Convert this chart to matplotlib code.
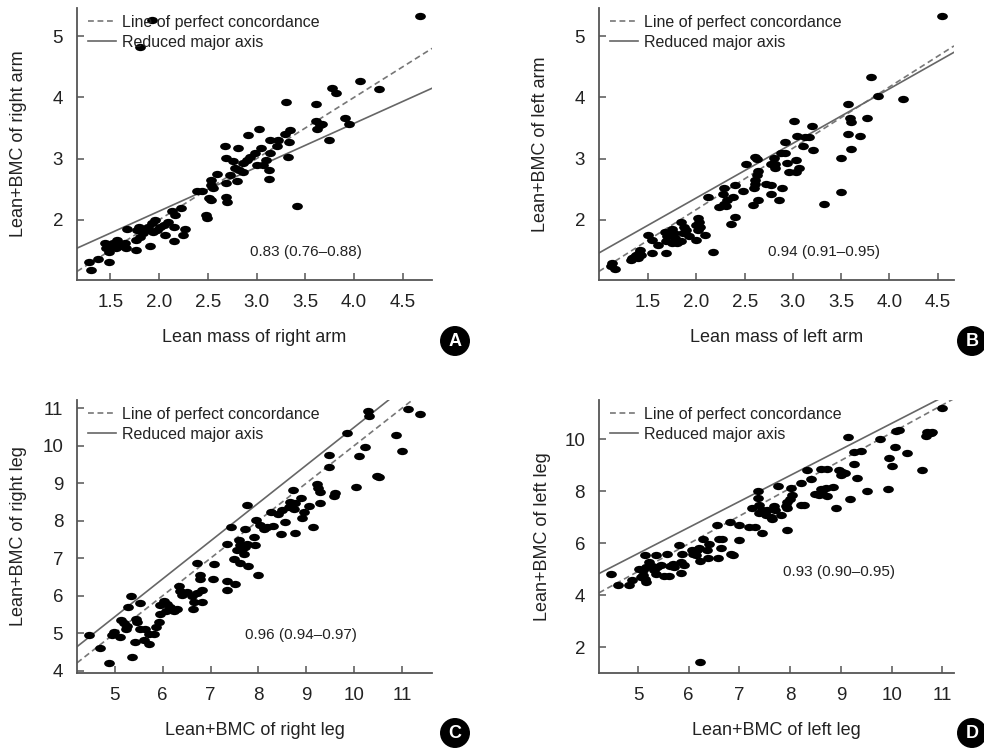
import matplotlib
matplotlib.use("Agg")
import matplotlib.pyplot as plt
from matplotlib import font_manager
from matplotlib.path import Path
from matplotlib.transforms import Affine2D

names = {f.name for f in font_manager.fontManager.ttflist}
fam = "Liberation Sans Narrow" if "Liberation Sans Narrow" in names else "Liberation Sans"
plt.rcParams["font.family"] = [fam, "DejaVu Sans"]

# panel A: right arm
a_x = [4.68, 1.93, 1.81, 4.06, 3.77, 3.81, 4.26, 3.30, 3.61, 3.91, 3.95, 3.61, 3.65, 3.62, 3.67,
       3.74, 3.03, 2.91, 3.29, 3.34, 3.33, 3.32, 3.14, 3.22, 3.21, 3.05, 3.14, 2.98, 2.93, 2.90,
       2.86, 3.00, 3.07, 3.10, 3.13, 3.13, 2.81, 2.68, 2.69, 2.76, 2.78, 2.82, 2.86, 2.80, 2.73,
       2.69, 2.59, 2.53, 2.53, 2.55, 2.69, 2.70, 2.51, 2.53, 2.39, 2.44, 2.48, 2.49, 3.41, 2.23,
       2.13, 2.16, 2.27, 2.25, 2.15, 2.06, 2.09, 2.05, 2.01, 1.98, 1.94, 2.15, 1.96, 1.93, 1.89,
       1.87, 1.84, 1.81, 1.77, 1.80, 1.76, 1.91, 1.67, 1.76, 1.66, 1.65, 1.57, 1.53, 1.51, 1.49,
       1.45, 1.46, 1.56, 1.49, 1.37, 1.28, 1.30, 1.60]
a_y = [5.33, 5.27, 4.83, 4.27, 4.16, 4.07, 4.14, 3.92, 3.89, 3.66, 3.56, 3.62, 3.55, 3.48, 3.57,
       3.30, 3.49, 3.39, 3.41, 3.47, 3.28, 3.02, 3.30, 3.30, 3.20, 3.17, 3.09, 3.09, 3.03, 2.98,
       2.93, 2.90, 2.90, 2.98, 2.82, 2.66, 3.18, 3.20, 3.01, 2.97, 2.84, 2.82, 2.79, 2.63, 2.73,
       2.60, 2.75, 2.65, 2.57, 2.52, 2.38, 2.30, 2.35, 2.33, 2.48, 2.48, 2.08, 2.03, 2.22, 2.19,
       2.14, 2.08, 1.86, 1.76, 1.65, 1.76, 1.97, 1.92, 1.88, 1.84, 1.80, 1.89, 2.00, 1.95, 1.89,
       1.84, 1.78, 1.72, 1.84, 1.89, 1.67, 1.57, 1.86, 1.51, 1.54, 1.62, 1.68, 1.62, 1.57, 1.48,
       1.62, 1.54, 1.54, 1.32, 1.36, 1.32, 1.18, 1.57]

# panel B: left arm
b_x = [4.55, 3.81, 3.88, 4.14, 3.57, 3.59, 3.60, 3.77, 3.57, 3.70, 3.60, 3.50, 3.50, 3.32, 3.01,
       3.20, 3.04, 3.13, 3.17, 3.11, 3.21, 2.92, 2.88, 2.92, 2.94, 3.03, 3.06, 2.96, 3.03, 2.80,
       2.81, 2.81, 2.77, 2.61, 2.63, 2.51, 2.64, 2.63, 2.61, 2.61, 2.60, 2.72, 2.77, 2.77, 2.86,
       2.89, 2.64, 2.59, 2.48, 2.40, 2.38, 2.29, 2.28, 2.32, 2.29, 2.31, 2.23, 2.40, 2.36, 2.12,
       2.17, 2.02, 2.03, 2.00, 2.04, 2.02, 2.09, 2.00, 1.84, 1.87, 1.89, 1.86, 1.92, 1.75, 1.77,
       1.78, 1.75, 1.80, 1.84, 1.67, 1.70, 1.68, 1.60, 1.50, 1.54, 1.54, 1.68, 1.42, 1.40, 1.37,
       1.35, 1.33, 1.39, 1.43, 1.32, 1.13, 1.11, 1.16]
b_y = [5.33, 4.33, 4.03, 3.98, 3.89, 3.66, 3.60, 3.67, 3.41, 3.37, 3.16, 3.01, 2.45, 2.26, 3.62,
       3.53, 3.37, 3.36, 3.36, 3.20, 3.14, 3.28, 3.10, 3.10, 2.93, 2.98, 2.84, 2.79, 2.79, 3.01,
       2.92, 2.84, 2.92, 3.03, 2.99, 2.91, 2.80, 2.73, 2.65, 2.59, 2.52, 2.58, 2.57, 2.43, 2.33,
       2.52, 2.33, 2.24, 2.48, 2.57, 2.38, 2.52, 2.43, 2.33, 2.26, 2.23, 2.21, 2.05, 1.93, 2.38,
       1.47, 2.03, 1.97, 1.92, 1.89, 1.84, 1.76, 1.68, 1.97, 1.89, 1.84, 1.78, 1.73, 1.86, 1.78,
       1.70, 1.62, 1.62, 1.65, 1.81, 1.73, 1.65, 1.59, 1.76, 1.67, 1.46, 1.46, 1.51, 1.46, 1.43,
       1.40, 1.38, 1.38, 1.43, 1.35, 1.29, 1.24, 1.20]

# panel C: right leg
c_x = [10.30, 10.31, 11.12, 11.38, 9.85, 10.88, 11.00, 10.22, 10.11, 9.47, 9.47, 10.48, 10.53,
       10.03, 9.61, 9.57, 9.22, 9.25, 9.28, 9.29, 8.72, 8.89, 8.67, 8.77, 8.63, 8.74, 8.95, 8.91,
       9.05, 9.14, 8.77, 8.48, 8.56, 8.42, 8.49, 8.26, 8.31, 7.76, 7.94, 8.04, 8.11, 8.18, 7.90,
       7.92, 7.99, 7.42, 7.73, 7.35, 7.59, 7.62, 7.66, 7.73, 7.76, 7.69, 7.55, 7.48, 7.62, 7.78,
       7.07, 6.71, 6.78, 6.79, 7.05, 7.34, 7.51, 7.34, 6.82, 6.71, 6.82, 6.61, 6.65, 6.64, 6.34,
       6.37, 6.41, 6.51, 6.02, 6.09, 6.16, 6.23, 6.30, 5.95, 6.06, 5.95, 5.92, 5.85, 5.81, 5.71,
       5.64, 5.52, 5.52, 5.33, 5.28, 5.45, 5.47, 5.12, 5.19, 5.26, 5.24, 4.98, 4.94, 5.10, 5.43,
       5.61, 5.71, 5.36, 4.87, 4.70, 4.46]
c_y = [10.93, 10.79, 10.98, 10.84, 10.35, 10.29, 9.86, 9.96, 9.72, 9.75, 9.44, 9.20, 9.17,
       8.89, 8.73, 8.65, 8.97, 8.86, 8.77, 8.46, 8.82, 8.61, 8.50, 8.46, 8.37, 8.32, 8.24, 8.06,
       8.39, 7.82, 7.67, 7.64, 7.97, 8.19, 8.28, 8.24, 7.85, 8.41, 8.01, 7.88, 7.79, 7.83, 7.57,
       7.34, 6.54, 7.83, 7.79, 7.37, 7.48, 7.34, 7.25, 7.30, 7.37, 7.12, 7.21, 6.99, 6.88, 6.79,
       6.84, 6.87, 6.54, 6.45, 6.45, 6.39, 6.30, 6.16, 6.16, 6.07, 5.83, 5.98, 5.83, 5.65, 6.27,
       6.12, 6.01, 6.10, 5.87, 5.78, 5.69, 5.60, 5.65, 5.74, 5.60, 5.52, 5.30, 5.16, 4.98, 4.98,
       5.12, 5.12, 5.80, 5.98, 5.69, 5.38, 5.29, 5.34, 5.27, 5.20, 5.12, 5.03, 4.94, 4.89, 4.76,
       4.83, 4.71, 4.36, 4.20, 4.60, 4.95]

# panel D: left leg
d_x = [11.00, 10.70, 10.77, 10.80, 10.68, 10.08, 10.15, 9.77, 9.15, 10.06, 10.30, 9.95, 10.01,
       10.59, 9.92, 9.51, 9.25, 9.39, 9.26, 9.31, 9.18, 8.90, 8.96, 9.03, 9.00, 9.09, 8.60, 8.73,
       8.84, 8.70, 8.60, 8.49, 8.57, 8.73, 8.62, 8.34, 8.42, 8.21, 8.21, 8.27, 8.01, 8.04, 8.00,
       7.94, 7.91, 7.94, 7.93, 7.76, 7.81, 7.37, 7.37, 7.25, 7.38, 7.45, 7.39, 7.52, 7.62, 7.71,
       7.68, 7.64, 7.55, 7.44, 7.18, 7.30, 7.00, 7.00, 6.81, 6.56, 6.59, 6.66, 6.63, 6.58, 6.83,
       6.88, 6.28, 6.39, 6.37, 6.38, 6.22, 6.07, 6.09, 6.14, 6.17, 6.20, 5.81, 5.87, 5.84, 5.91,
       5.84, 5.68, 5.71, 5.64, 5.58, 5.51, 5.62, 5.35, 5.13, 5.22, 5.27, 5.32, 5.38, 5.45, 5.35,
       5.15, 5.09, 5.02, 5.09, 5.14, 5.15, 5.05, 4.89, 4.82, 4.61, 4.47, 6.22]
d_y = [11.18, 10.28, 10.24, 10.28, 10.13, 10.32, 10.35, 10.00, 10.06, 9.68, 9.45, 9.26, 8.96,
       8.81, 8.07, 8.01, 9.51, 9.55, 9.04, 8.51, 7.69, 7.33, 8.81, 8.74, 8.61, 8.68, 8.83, 8.83,
       8.16, 8.10, 8.06, 7.88, 7.84, 7.80, 7.91, 8.81, 8.45, 8.32, 7.46, 7.46, 8.10, 7.84, 7.68,
       7.59, 7.43, 7.33, 6.52, 8.19, 7.07, 8.00, 7.75, 7.35, 7.46, 7.26, 7.14, 7.07, 7.01, 7.26,
       7.42, 6.92, 7.26, 6.39, 6.60, 6.62, 6.69, 6.11, 6.82, 6.69, 6.15, 6.15, 5.83, 5.43, 5.60,
       5.53, 6.17, 5.96, 5.72, 5.43, 5.31, 5.72, 5.60, 5.53, 5.72, 5.83, 5.92, 5.60, 5.27, 5.15,
       4.85, 5.21, 5.08, 5.12, 5.60, 4.72, 4.72, 5.53, 5.53, 5.27, 5.11, 4.95, 5.08, 5.15, 4.82,
       5.08, 4.95, 5.02, 4.76, 4.63, 4.50, 4.70, 4.57, 4.38, 4.38, 4.83, 1.42]

# fitted lines as drawn: (intercept, slope)
conc_lines = [(0.0, 1.0), (0.17, 1.0), (0.0, 1.0), (-0.42, 1.066)]
rma_lines = [(0.708, 0.717), (0.58, 0.89), (0.39, 1.01), (0.60, 1.0)]

ccc_labels = ["0.83 (0.76\u20130.88)", "0.94 (0.91\u20130.95)",
              "0.96 (0.94\u20130.97)", "0.93 (0.90\u20130.95)"]
x_labels = ["Lean mass of right arm", "Lean mass of left arm",
            "Lean+BMC of right leg", "Lean+BMC of left leg"]
y_labels = ["Lean+BMC of right arm", "Lean+BMC of left arm",
            "Lean+BMC of right leg", "Lean+BMC of left leg"]
panel_letters = ["A", "B", "C", "D"]

arm_xticks = [1.5, 2.0, 2.5, 3.0, 3.5, 4.0, 4.5]
arm_yticks = [2, 3, 4, 5]
leg_xticks = [5, 6, 7, 8, 9, 10, 11]
rleg_yticks = [4, 5, 6, 7, 8, 9, 10, 11]
lleg_yticks = [2, 4, 6, 8, 10]

xs = [a_x, b_x, c_x, d_x]
ys = [a_y, b_y, c_y, d_y]
xlims = [(1.16, 4.80), (0.99, 4.67), (4.21, 11.63), (4.23, 11.23)]
ylims = [(1.02, 5.46), (1.02, 5.46), (3.94, 11.22), (1.01, 11.50)]
xticks = [arm_xticks, arm_xticks, leg_xticks, leg_xticks]
yticks = [arm_yticks, arm_yticks, rleg_yticks, lleg_yticks]
xfmt = ["%.1f", "%.1f", "%d", "%d"]
text_pos = [(3.51, 1.47), (3.32, 1.47), (8.89, 4.94), (8.97, 4.89)]
ylab_x = [-0.166, -0.166, -0.166, -0.16]

rects = [[0.0783, 0.6262, 0.3608, 0.3632], [0.6087, 0.6262, 0.3608, 0.3632],
         [0.0783, 0.1015, 0.3608, 0.3645], [0.6087, 0.1015, 0.3608, 0.3645]]
badges = [(455, 341), (972, 341), (455, 733), (972, 733)]

blob = Path.unit_circle().transformed(Affine2D().scale(1.0, 0.68))
ink = "#222222"

fig = plt.figure(figsize=(9.84, 7.49), dpi=100)
for i in range(4):
    ax = fig.add_axes(rects[i])
    ax.scatter(xs[i], ys[i], s=60, marker=blob, color="black", linewidths=0, zorder=3)
    x0, x1 = xlims[i]
    ci, cs = conc_lines[i]
    ri, rs = rma_lines[i]
    ax.plot([x0, x1], [ci + cs * x0, ci + cs * x1], ls=(0, (3.5, 2.2)), color="#777777",
            lw=1.2, label="Line of perfect concordance", zorder=2)
    ax.plot([x0, x1], [ri + rs * x0, ri + rs * x1], ls="-", color="#666666",
            lw=1.2, label="Reduced major axis", zorder=2)
    ax.set_xlim(xlims[i])
    ax.set_ylim(ylims[i])
    ax.set_xticks(xticks[i])
    ax.set_xticklabels([xfmt[i] % t for t in xticks[i]])
    ax.set_yticks(yticks[i])
    for s in ["top", "right"]:
        ax.spines[s].set_visible(False)
    for s in ["left", "bottom"]:
        ax.spines[s].set_color("#555555")
        ax.spines[s].set_linewidth(1.3)
    ax.tick_params(direction="in", length=5, width=1.1, color="#555555",
                   labelsize=13.5, labelcolor=ink, pad=10)
    ax.set_xlabel(x_labels[i], fontsize=13, color=ink, va="center")
    ax.set_ylabel(y_labels[i], fontsize=13, color=ink, va="center")
    ax.xaxis.set_label_coords(0.5, -0.21)
    ax.yaxis.set_label_coords(ylab_x[i], 0.5)
    ax.text(text_pos[i][0], text_pos[i][1], ccc_labels[i], fontsize=11,
            color=ink, ha="center", va="center")
    leg = ax.legend(loc="upper left", bbox_to_anchor=(0.026, 0.98), frameon=False,
                    fontsize=11.5, handlelength=1.75, handletextpad=0.4,
                    borderaxespad=0.0, borderpad=0.1, labelspacing=0.3)
    for t in leg.get_texts():
        t.set_color(ink)
    bx, by = badges[i]
    fig.text(bx / 984, 1 - by / 749, panel_letters[i], fontsize=13, fontweight="bold",
             color="white", ha="center", va="center",
             bbox=dict(boxstyle="circle,pad=0.32", fc="black", ec="black"))

fig.savefig("out.png", dpi=100)
